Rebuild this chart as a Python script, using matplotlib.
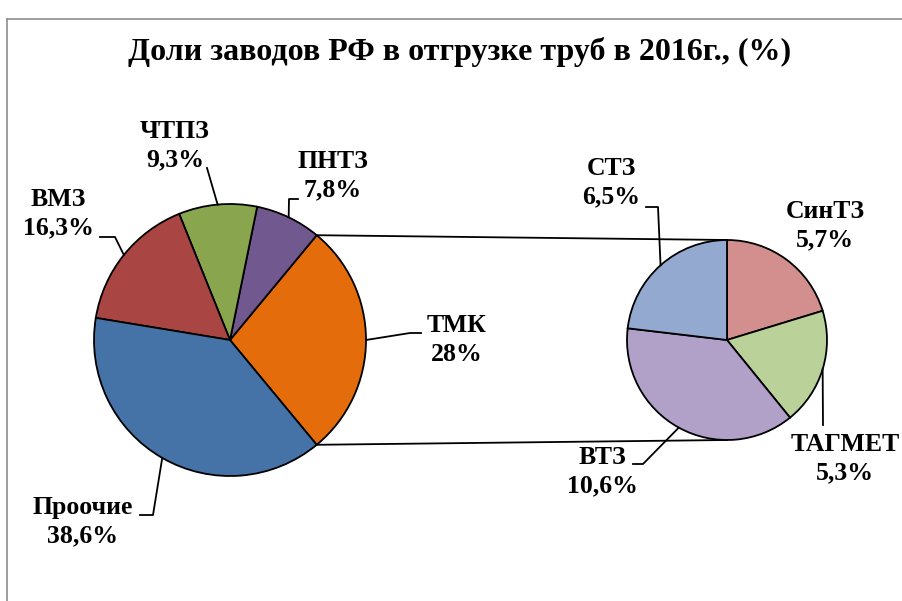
import numpy as np
import matplotlib
matplotlib.use("Agg")
import matplotlib.pyplot as plt
from matplotlib.lines import Line2D

# ---------------- data ----------------
title = "Доли заводов РФ в отгрузке труб в 2016г., (%)"
main_labels = ["ТМК", "ПНТЗ", "ЧТПЗ", "ВМЗ", "Проочие"]
main_values = [28.0, 7.8, 9.3, 16.3, 38.6]
main_text = ["28%", "7,8%", "9,3%", "16,3%", "38,6%"]
main_colors = ["#E46C0A", "#71588F", "#89A54E", "#A94643", "#4673A7"]

sub_labels = ["СинТЗ", "ТАГМЕТ", "ВТЗ", "СТЗ"]
sub_values = [5.7, 5.3, 10.6, 6.5]
sub_text = ["5,7%", "5,3%", "10,6%", "6,5%"]
sub_colors = ["#D38F8D", "#BBD19A", "#B1A0C7", "#93A9CF"]

# ---------------- layout ----------------
W, H = 902, 601
fig = plt.figure(figsize=(W / 100, H / 100), dpi=100)
ax = fig.add_axes([0, 0, 1, 1])

FONT = "Liberation Serif"
LW = 1.3


def P(x, y):
    """image pixel coords (y down) -> axes coords (y up)"""
    return x, H - y


main_center = P(230, 340)
main_r = 136
sub_center = P(727, 340)
sub_r = 100

wp = dict(edgecolor="black", linewidth=LW)
start = -main_values[0] / sum(main_values) * 360 / 2
mw, _ = ax.pie(main_values, colors=main_colors, startangle=start,
               counterclock=True, center=main_center, radius=main_r,
               wedgeprops=wp, frame=True)
sw, _ = ax.pie(sub_values, colors=sub_colors, startangle=90,
               counterclock=False, center=sub_center, radius=sub_r,
               wedgeprops=wp, frame=True)

ax.set_xlim(0, W)
ax.set_ylim(0, H)
ax.set_aspect("equal")
ax.axis("off")


def edge_point(w, ang=None):
    if ang is None:
        ang = (w.theta1 + w.theta2) / 2
    cx, cy = w.center
    a = np.deg2rad(ang)
    return cx + w.r * np.cos(a), cy + w.r * np.sin(a)


# connector lines between the pies (ТМК wedge edges -> top/bottom of sub pie)
tw = mw[0]
p_top = edge_point(tw, tw.theta2)
p_bot = edge_point(tw, tw.theta1)
ax.plot([p_top[0], sub_center[0]], [p_top[1], sub_center[1] + sub_r],
        color="black", lw=LW, zorder=0.5)
ax.plot([p_bot[0], sub_center[0]], [p_bot[1], sub_center[1] - sub_r],
        color="black", lw=LW, zorder=0.5)

# labels: position (image coords), leader path points (image coords)
main_label_pos = [(457, 340), (333, 176), (175, 146), (58, 214), (83, 522)]
main_leader = [[(410, 333), (421, 333)],
               [(289, 199), (298, 199)],
               [(207, 168)],
               [(115, 237), (100, 237)],
               [(153, 515), (140, 515)]]
sub_label_pos = [(825, 226), (845, 459), (602, 472), (611, 183)]
sub_leader = [[],
              [(823, 425)],
              [(643, 464), (633, 464)],
              [(658, 207), (646, 207)]]

fs = 18.5
for wedges, labs, txts, poss, leads in [
        (mw, main_labels, main_text, main_label_pos, main_leader),
        (sw, sub_labels, sub_text, sub_label_pos, sub_leader)]:
    for w, lab, t, pos, lead in zip(wedges, labs, txts, poss, leads):
        ax.text(*P(*pos), f"{lab}\n{t}", ha="center", va="center",
                multialignment="center", fontsize=fs, fontweight="bold",
                fontfamily=FONT, linespacing=1.3, color="black")
        if lead:
            pts = [edge_point(w)] + [P(*q) for q in lead]
            xs, ys = zip(*pts)
            ax.plot(xs, ys, color="black", lw=LW, zorder=3)

ax.text(*P(460, 52), title, ha="center", va="center", fontsize=23,
        fontweight="bold", fontfamily=FONT, color="black")

# chart-area border (left and top visible)
fig.add_artist(Line2D([7 / W, 7 / W], [0, 1 - 19 / H], transform=fig.transFigure,
                      color="#8C8C8C", lw=1.2))
fig.add_artist(Line2D([7 / W, 1], [1 - 19 / H, 1 - 19 / H], transform=fig.transFigure,
                      color="#8C8C8C", lw=1.2))

fig.savefig("out.png", dpi=100, facecolor="white")
